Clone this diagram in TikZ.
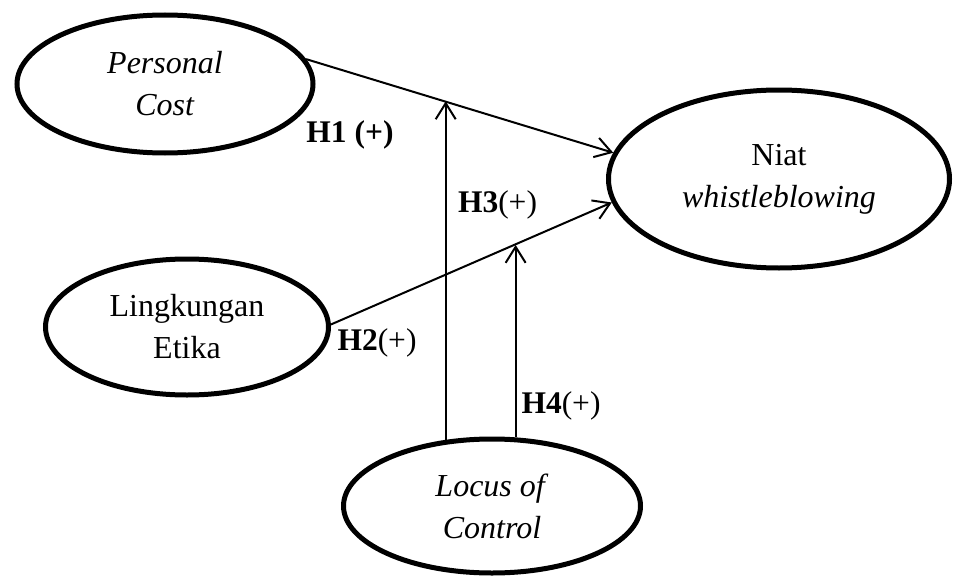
\documentclass[tikz,border=0pt]{standalone}
\usepackage{fontspec}
\setmainfont{Liberation Serif}
\usetikzlibrary{arrows.meta,calc,shapes.geometric}
\begin{document}
\begin{tikzpicture}[x=1pt,y=-1pt,
  ell/.style={draw, ellipse, line width=5pt, inner sep=0pt, align=center,
    font=\fontsize{32}{42}\selectfont},
  conn/.style={line width=2pt, -{Straight Barb[length=16pt,width=20pt,line width=2pt]}},
  hyp/.style={font=\fontsize{31.5}{38}\selectfont, inner sep=0pt, anchor=base}]
\useasboundingbox (0,0) rectangle (953,578);
\node[ell, minimum width=296pt, minimum height=138pt] (pc) at (165,84) {\textit{Personal}\\\textit{Cost}};
\node[ell, minimum width=341pt, minimum height=178pt] (niat) at (779,179) {Niat\\\textit{whistleblowing}};
\node[ell, minimum width=283pt, minimum height=136pt] (le) at (187,327) {Lingkungan\\Etika};
\node[ell, minimum width=297pt, minimum height=134pt] (loc) at (492,506) {\textit{Locus of}\\\textit{Control}};
% main paths
\draw[conn] (pc.10.4) -- (niat.171.8);
\draw[conn] (le.1) -- (niat.188);
\coordinate (m1) at ($(pc.10.4)!0.451!(niat.171.8)$);
\coordinate (m2) at ($(le.1)!0.652!(niat.188)$);
% moderating arrows
\draw[conn] (loc.125.7) -- (loc.125.7 |- m1);
\draw[conn] (loc.71.4) -- (loc.71.4 |- m2);
% labels
\node[hyp] (h1) at (350,142) {\textbf{H1 (+)}};
\node[hyp] (h3) at (497.5,212) {\textbf{H3}(+)};
\node[hyp] (h2) at (377,350) {\textbf{H2}(+)};
\node[hyp] (h4) at (561,413) {\textbf{H4}(+)};
\end{tikzpicture}
\end{document}
